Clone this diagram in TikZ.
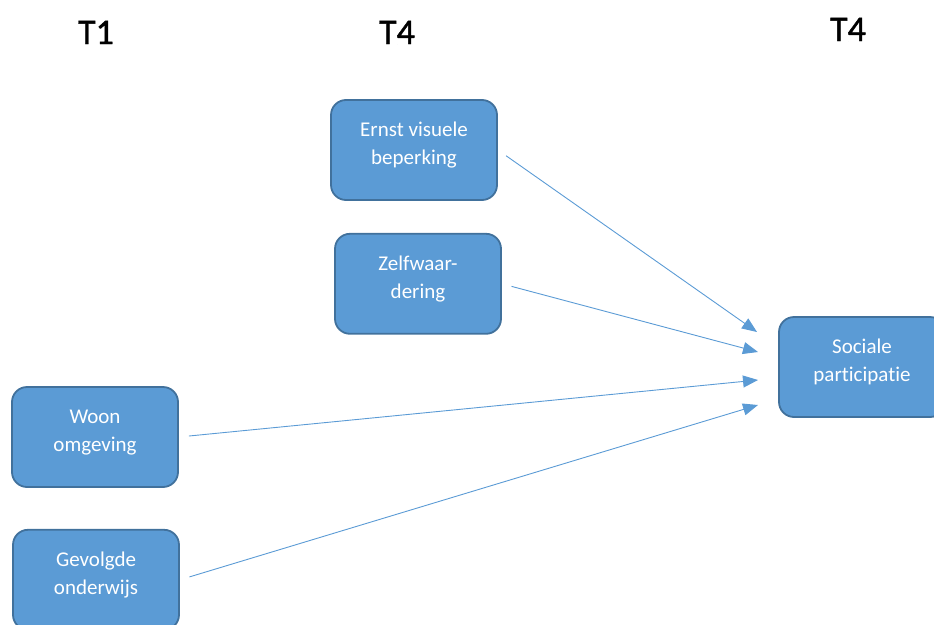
\documentclass[tikz,border=0pt]{standalone}
\usepackage{fontspec}
\setmainfont{Carlito}[Ligatures=NoCommon]
\usetikzlibrary{arrows.meta, positioning}
\definecolor{boxfill}{HTML}{5B9BD5}
\definecolor{boxline}{HTML}{41719C}
\tikzstyle{varbox} = [rectangle, rounded corners=15pt, minimum width=166pt, minimum height=100pt, text centered, align=center, text depth=13pt, draw=boxline, line width=1.8pt, fill=boxfill, text=white, font=\fontsize{21}{28}\selectfont]
\tikzstyle{arrow} = [draw=boxfill, line width=0.9pt, -{Triangle[length=15pt, width=12pt]}, shorten <=10pt]
\tikzstyle{timelabel} = [font=\fontsize{36}{40}\selectfont\addfontfeatures{FakeBold=1.2}, anchor=base]

\begin{document}
\begin{tikzpicture}[x=1pt, y=-1pt]
\useasboundingbox (0,0) rectangle (934,624);

% Labels
\node (t1) [timelabel] at (96,44) {T1};
\node (t4a) [timelabel] at (397,44) {T4};
\node (t4b) [timelabel] at (848,41) {T4};

% Nodes
\node (ernst) [varbox] at (414,150) {Ernst visuele\\beperking};
\node (zelf) [varbox, below=32pt of ernst, xshift=4pt] {Zelfwaar-\\dering};
\node (woon) [varbox] at (95,437) {Woon\\omgeving};
\node (onderwijs) [varbox, below=41pt of woon, xshift=1pt] {Gevolgde\\onderwijs};
\node (sociaal) [varbox] at (862,367) {Sociale\\participatie};

% Arrow tips
\coordinate (in1) at (757,332);
\coordinate (in2) at (758,352);
\coordinate (in3) at (758,380);
\coordinate (in4) at (758,405);

% Arrows
\draw [arrow] (ernst.east) -- (in1);
\draw [arrow] (zelf.east) -- (in2);
\draw [arrow] (woon.east) -- (in3);
\draw [arrow] (onderwijs.east) -- (in4);

\end{tikzpicture}
\end{document}
